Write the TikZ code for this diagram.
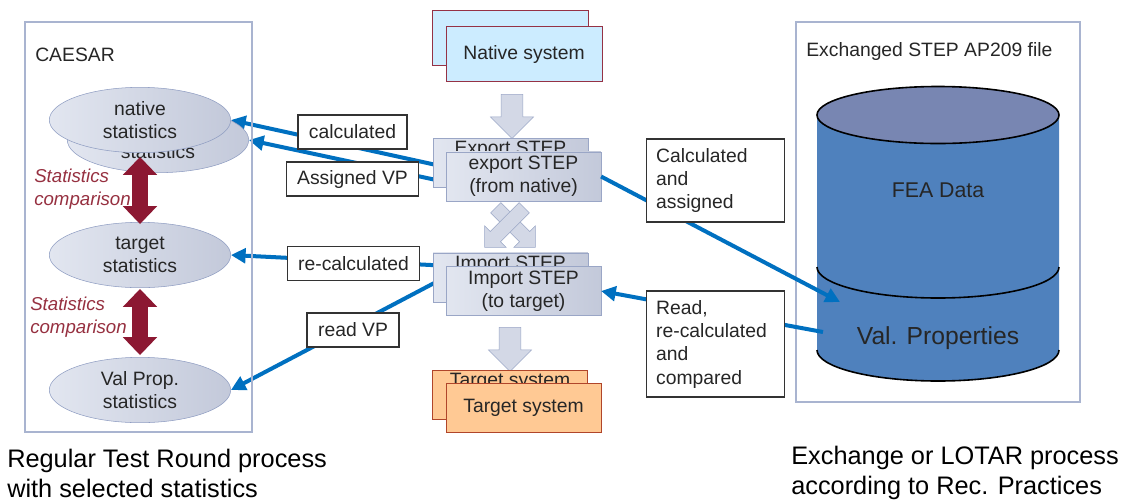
\documentclass[tikz,border=0pt]{standalone}
\usepackage{fontspec}
\setmainfont{Liberation Sans}
\usetikzlibrary{shapes,arrows.meta,positioning,calc,backgrounds}

\definecolor{flowblue}{HTML}{0070C0}
\definecolor{frameline}{HTML}{A9B4D0}
\definecolor{statL}{HTML}{E2E6F0}
\definecolor{statR}{HTML}{C3C9DA}
\definecolor{statline}{HTML}{8F9DC2}
\definecolor{stepline}{HTML}{9AA6C6}
\definecolor{nativefill}{HTML}{CCECFF}
\definecolor{nativeline}{HTML}{953245}
\definecolor{targetfill}{HTML}{FFC994}
\definecolor{targetline}{HTML}{B0452A}
\definecolor{cmpred}{HTML}{8C1832}
\definecolor{cmptext}{HTML}{963040}
\definecolor{cylbody}{HTML}{4F81BD}
\definecolor{cyltop}{HTML}{7886B2}
\definecolor{arrowfill}{HTML}{D3D8E6}

\tikzset{
  txt/.style={font=\fontsize{14.5}{17.5}\selectfont, text=black!85},
  stat/.style={txt, ellipse, draw=statline, left color=statL, right color=statR, minimum width=136pt, minimum height=49pt, inner sep=0pt, align=center},
  stepbox/.style={txt, rectangle, draw=stepline, left color=statL, right color=statR, minimum width=116pt, minimum height=37pt, inner sep=0pt, align=center},
  natbox/.style={txt, draw=nativeline, fill=nativefill, minimum width=117pt, minimum height=41.5pt, inner sep=0pt},
  tgtbox/.style={txt, draw=targetline, fill=targetfill, minimum width=116pt, minimum height=37pt, inner sep=0pt, align=center},
  tag/.style={txt, draw=black!80, fill=white, line width=0.9pt, minimum height=25.5pt, inner xsep=8.25pt},
  note/.style={tag, align=left, text width=89pt, inner xsep=7.5pt, inner ysep=6.8pt},
  flow/.style={draw=flowblue, line width=3pt, -{Triangle[length=11pt,width=11pt]}},
  compare/.style={draw=cmpred, line width=12pt, {Triangle[length=13.5pt,width=25pt]}-{Triangle[length=13.5pt,width=25pt]}},
  cmpnote/.style={font=\fontsize{14}{17}\selectfont\itshape, text=cmptext, align=left, anchor=west, inner sep=0pt},
  grayarrow/.style={single arrow, draw=stepline, fill=arrowfill, inner xsep=0pt, minimum width=0pt},
  panel/.style={draw=frameline, line width=0.9pt},
  caption/.style={font=\fontsize{19}{22.5}\selectfont, anchor=west, align=left, inner sep=0pt}
}

\begin{document}
\begin{tikzpicture}[x=0.75pt,y=-0.75pt]
    \useasboundingbox (0,0) rectangle (1129,501);

    % CAESAR statistics
    \draw[panel] (25,22) rectangle (252,432);
    \node[txt, anchor=west, inner sep=0pt] (caesar) at (35,55) {CAESAR};
    \node[stat] (nativeB) at (158,140) {native\\statistics};
    \node[stat] (native) at (140,120) {native\\statistics};
    \node[stat] (target) at (140,255) {target\\statistics};
    \node[stat] (valstat) at (140,390) {Val Prop.\\statistics};

    % Statistics comparison
    \draw[compare] ($(native.south)+(0,4)$) -- ($(target.north)+(0,2)$);
    \draw[compare] ($(target.south)+(0,1)$) -- ($(valstat.north)+(0,-2)$);
    \node[cmpnote] (cmp1) at (34,189) {Statistics\\comparison};
    \node[cmpnote] (cmp2) at (30,317) {Statistics\\comparison};

    % Native system -> export -> import -> target system
    \node[natbox] (natsysB) at (510,37.5) {};
    \node[natbox] (natsys) at (524,54) {Native system};
    \node[grayarrow, rotate=-90, minimum height=33pt, inner ysep=7.9pt, single arrow head extend=8pt] (down1) at (512,111) {};
    \node[stepbox] (expstepB) at (510.5,163) {Export STEP\\\strut};
    \node[stepbox] (expstep) at (523.5,176.5) {export STEP\\(from native)};
    \node[grayarrow, rotate=-45, minimum height=42pt, inner ysep=5.25pt, single arrow head extend=6pt] (crossR) at (513,225) {};
    \node[grayarrow, rotate=-135, minimum height=42pt, inner ysep=5.25pt, single arrow head extend=6pt] (crossL) at (507,225) {};
    \node[stepbox] (impstepB) at (510.5,277.5) {Import STEP\\\strut};
    \node[stepbox] (impstep) at (523.5,291) {Import STEP\\(to target)};
    \node[grayarrow, rotate=-90, minimum height=33pt, inner ysep=7.9pt, single arrow head extend=8pt] (down2) at (510,344) {};
    \node[tgtbox] (tgtsysB) at (510,395) {Target system\\\strut};
    \node[tgtbox] (tgtsys) at (523.5,407.5) {Target system};

    % Exchanged file
    \draw[panel] (796,22) rectangle (1080,402);
    \node[txt, anchor=west, inner sep=0pt] (exfile) at (806,51) {Exchanged STEP AP209 file};
    \fill[cylbody] (817,115) -- (817,350) arc[start angle=180, end angle=0, x radius=121, y radius=31] -- (1059,115) -- cycle;
    \draw[line width=1.2pt, fill=cyltop] (938,115) ellipse [x radius=121, y radius=28.5];
    \draw[line width=1.2pt] (817,267) arc[start angle=180, end angle=0, x radius=121, y radius=31];
    \draw[line width=1.2pt] (817,350) arc[start angle=180, end angle=0, x radius=121, y radius=31];
    \node[font=\fontsize{16}{19}\selectfont, text=black!85] (fea) at (938,190) {FEA Data};
    \node[font=\fontsize{18.5}{22}\selectfont, text=black!85] (valprops) at (938,338) {Val. Properties};
    \coordinate (vpin) at (840,302);
    \coordinate (vpout) at (823,332);

    % data flows
    \begin{scope}[on background layer]
        \draw[flow] ($(expstepB.west)+(8,3)$) -- (native.east);
        \draw[flow] ($(expstepB.west)+(8,18)$) -- (nativeB.east);
        \draw[flow] ($(impstepB.west)+(8,-12)$) -- (target.east);
        \draw[flow] ($(impstepB.west)+(8,2)$) -- (valstat.east);
    \end{scope}
    \draw[flow] (expstep.east) -- (vpin);
    \draw[flow] (vpout) -- (impstep.east);

    \node[tag] (calc) at (352.5,132) {calculated};
    \node[tag] (assigned) at (352.5,179) {Assigned VP};
    \node[tag] (recalc) at (353.5,263.5) {re-calculated};
    \node[tag] (readvp) at (353,330) {read VP};
    \node[note] (calcassign) at (715.5,180.5) {Calculated\\and\\assigned};
    \node[note] (readcmp) at (715.5,344) {Read,\\re-calculated\\and\\compared};

    % captions
    \node[caption] (leftcap) at (7,473) {Regular Test Round process\\with selected statistics};
    \node[caption] (rightcap) at (791,473) {Exchange or LOTAR process\\according to Rec. Practices};
\end{tikzpicture}
\end{document}
